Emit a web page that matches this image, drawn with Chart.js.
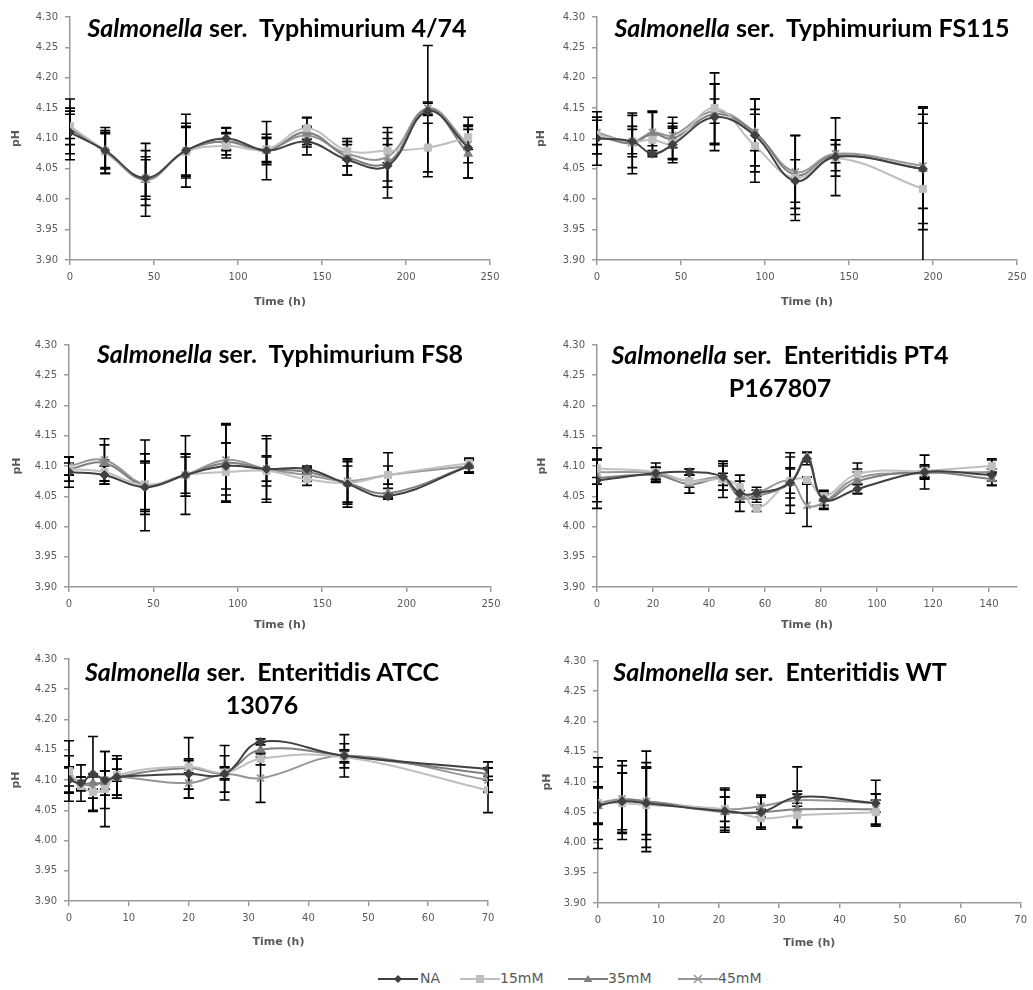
<!DOCTYPE html>
<html>
<head>
<meta charset="utf-8">
<script src="https://cdn.jsdelivr.net/npm/chart.js@4.4.0/dist/chart.umd.min.js"></script>
<style>
  html, body { margin: 0; padding: 0; background: #fff; }
  body { width: 1033px; height: 990px; position: relative; overflow: hidden; }
  canvas.panel { position: absolute; }
  .ttl { position: absolute; transform: translateX(-50%); text-align: center; white-space: pre;
         font-family: Lato, 'Liberation Sans', sans-serif; font-weight: bold; font-size: 25px;
         line-height: 33px; color: #000; }
  .ttl i { font-style: italic; }
  .leg { position: absolute; top: 971px; height: 16px; }
  .legtxt { position: absolute; top: 969px; font-family: 'DejaVu Sans', sans-serif; font-size: 14px;
            color: #595959; line-height: 18px; }
</style>
</head>
<body>
<canvas class="panel" id="c1" width="515" height="315" style="left:0px;top:0px"></canvas>
<canvas class="panel" id="c2" width="513" height="315" style="left:520px;top:0px"></canvas>
<canvas class="panel" id="c3" width="515" height="320" style="left:0px;top:320px"></canvas>
<canvas class="panel" id="c4" width="513" height="320" style="left:520px;top:320px"></canvas>
<canvas class="panel" id="c5" width="515" height="315" style="left:0px;top:640px"></canvas>
<canvas class="panel" id="c6" width="513" height="315" style="left:520px;top:640px"></canvas>

<div class="ttl" style="left:277px;top:11px"><i>Salmonella</i> ser.  Typhimurium 4/74</div>
<div class="ttl" style="left:812px;top:11px"><i>Salmonella</i> ser.  Typhimurium FS115</div>
<div class="ttl" style="left:280px;top:337px"><i>Salmonella</i> ser.  Typhimurium FS8</div>
<div class="ttl" style="left:780px;top:338px"><i>Salmonella</i> ser.  Enteritidis PT4
P167807</div>
<div class="ttl" style="left:262px;top:655px"><i>Salmonella</i> ser.  Enteritidis ATCC
13076</div>
<div class="ttl" style="left:780px;top:655px"><i>Salmonella</i> ser.  Enteritidis WT</div>

<svg class="leg" style="left:378px" width="40" height="16"><line x1="0" y1="8" x2="40" y2="8" stroke="#404040" stroke-width="2"/><polygon points="20,4 24,8 20,12 16,8" fill="#404040"/></svg>
<div class="legtxt" style="left:420px">NA</div>
<svg class="leg" style="left:460px" width="40" height="16"><line x1="0" y1="8" x2="40" y2="8" stroke="#bfbfbf" stroke-width="2"/><rect x="16" y="4" width="8" height="8" fill="#bfbfbf"/></svg>
<div class="legtxt" style="left:500px">15mM</div>
<svg class="leg" style="left:568px" width="40" height="16"><line x1="0" y1="8" x2="40" y2="8" stroke="#7f7f7f" stroke-width="2"/><polygon points="20,4 24.5,11 15.5,11" fill="#7f7f7f"/></svg>
<div class="legtxt" style="left:608px">35mM</div>
<svg class="leg" style="left:678px" width="40" height="16"><line x1="0" y1="8" x2="40" y2="8" stroke="#969696" stroke-width="2"/><path d="M16 4 L24 12 M24 4 L16 12" stroke="#969696" stroke-width="1.5"/></svg>
<div class="legtxt" style="left:718px">45mM</div>

<script>
// ---------------- DATA ----------------
const seriesNames = ['NA', '15mM', '35mM', '45mM'];
const yTickMin = 3.90, yTickMax = 4.30, yTickStep = 0.05;
const axisTitleX = 'Time (h)';
const axisTitleY = 'pH';

// Panel 1: Typhimurium 4/74
const p1Time   = [0, 21, 45, 69, 93, 117, 141, 165, 189, 213, 237];
const p1NA     = [4.110, 4.080, 4.035, 4.080, 4.100, 4.080, 4.095, 4.065, 4.055, 4.145, 4.085];
const p1NAErr  = [0.035, 0.030, 0.035, 0.045, 0.018, 0.048, 0.022, 0.025, 0.035, 0.108, 0.050];
const p1M15    = [4.120, 4.080, 4.035, 4.078, 4.088, 4.082, 4.117, 4.080, 4.080, 4.085, 4.102];
const p1M15Err = [0.020, 0.028, 0.030, 0.040, 0.020, 0.020, 0.018, 0.015, 0.020, 0.040, 0.020];
const p1M35    = [4.115, 4.080, 4.032, 4.080, 4.095, 4.080, 4.110, 4.070, 4.060, 4.148, 4.075];
const p1M35Err = [0.050, 0.038, 0.060, 0.040, 0.022, 0.020, 0.024, 0.030, 0.058, 0.010, 0.040];
const p1M45    = [4.120, 4.078, 4.035, 4.080, 4.095, 4.082, 4.105, 4.075, 4.070, 4.150, 4.090];
const p1M45Err = [0.030, 0.035, 0.045, 0.060, 0.015, 0.025, 0.015, 0.020, 0.040, 0.010, 0.030];

// Panel 2: Typhimurium FS115
const p2Time   = [0, 21, 33, 45, 70, 94, 118, 142, 194];
const p2NA     = [4.100, 4.095, 4.075, 4.090, 4.135, 4.105, 4.030, 4.070, 4.050];
const p2NAErr  = [0.044, 0.043, 0.005, 0.030, 0.055, 0.060, 0.035, 0.064, 0.100];
const p2M15    = [4.105, 4.095, 4.098, 4.092, 4.150, 4.088, 4.035, 4.068, 4.017];
const p2M15Err = [0.030, 0.025, 0.010, 0.025, 0.058, 0.060, 0.070, 0.030, 0.135];
const p2M35    = [4.105, 4.092, 4.108, 4.100, 4.140, 4.110, 4.040, 4.072, 4.050];
const p2M35Err = [0.030, 0.050, 0.035, 0.035, 0.050, 0.055, 0.065, 0.025, 0.090];
const p2M45    = [4.110, 4.095, 4.110, 4.105, 4.145, 4.110, 4.045, 4.075, 4.055];
const p2M45Err = [0.020, 0.020, 0.035, 0.020, 0.020, 0.030, 0.060, 0.015, 0.070];

// Panel 3: Typhimurium FS8
const p3Time   = [0, 21, 45, 69, 93, 117, 141, 165, 189, 237];
const p3NA     = [4.090, 4.085, 4.065, 4.085, 4.100, 4.095, 4.095, 4.070, 4.050, 4.100];
const p3NAErr  = [0.025, 0.015, 0.040, 0.065, 0.038, 0.020, 0.005, 0.030, 0.005, 0.010];
const p3M15    = [4.095, 4.090, 4.068, 4.085, 4.090, 4.092, 4.078, 4.072, 4.085, 4.105];
const p3M15Err = [0.010, 0.020, 0.040, 0.035, 0.048, 0.025, 0.010, 0.040, 0.015, 0.008];
const p3M35    = [4.095, 4.105, 4.068, 4.085, 4.105, 4.095, 4.090, 4.072, 4.055, 4.100];
const p3M35Err = [0.020, 0.030, 0.075, 0.030, 0.065, 0.055, 0.008, 0.035, 0.008, 0.012];
const p3M45    = [4.100, 4.110, 4.070, 4.085, 4.110, 4.095, 4.085, 4.075, 4.085, 4.100];
const p3M45Err = [0.015, 0.035, 0.050, 0.035, 0.058, 0.050, 0.010, 0.035, 0.037, 0.010];

// Panel 4: Enteritidis PT4 P167807
const p4Time   = [0, 21, 33, 45, 51, 57, 69, 75, 81, 93, 117, 141];
const p4NA     = [4.076, 4.088, 4.090, 4.082, 4.055, 4.055, 4.072, 4.112, 4.045, 4.062, 4.090, 4.085];
const p4NAErr  = [0.035, 0.010, 0.005, 0.022, 0.030, 0.005, 0.050, 0.010, 0.010, 0.008, 0.028, 0.010];
const p4M15    = [4.096, 4.090, 4.075, 4.078, 4.065, 4.030, 4.075, 4.077, 4.050, 4.087, 4.092, 4.100];
const p4M15Err = [0.015, 0.015, 0.020, 0.010, 0.010, 0.005, 0.020, 0.005, 0.008, 0.018, 0.010, 0.010];
const p4M35    = [4.080, 4.085, 4.070, 4.078, 4.048, 4.050, 4.072, 4.115, 4.045, 4.075, 4.090, 4.078];
const p4M35Err = [0.050, 0.012, 0.015, 0.030, 0.008, 0.010, 0.025, 0.008, 0.015, 0.020, 0.010, 0.010];
const p4M45    = [4.090, 4.088, 4.075, 4.080, 4.050, 4.055, 4.075, 4.035, 4.040, 4.080, 4.088, 4.090];
const p4M45Err = [0.020, 0.010, 0.010, 0.020, 0.010, 0.010, 0.040, 0.035, 0.012, 0.010, 0.010, 0.022];

// Panel 5: Enteritidis ATCC 13076
const p5Time   = [0, 2, 4, 6, 8, 20, 26, 32, 46, 70];
const p5NA     = [4.100, 4.095, 4.110, 4.100, 4.105, 4.110, 4.110, 4.163, 4.140, 4.118];
const p5NAErr  = [0.022, 0.010, 0.062, 0.047, 0.030, 0.025, 0.030, 0.005, 0.035, 0.012];
const p5M15    = [4.115, 4.090, 4.080, 4.085, 4.108, 4.122, 4.112, 4.135, 4.138, 4.083];
const p5M15Err = [0.050, 0.008, 0.030, 0.062, 0.010, 0.010, 0.010, 0.010, 0.010, 0.037];
const p5M35    = [4.110, 4.095, 4.095, 4.095, 4.105, 4.120, 4.112, 4.150, 4.140, 4.110];
const p5M35Err = [0.030, 0.010, 0.010, 0.020, 0.030, 0.050, 0.045, 0.012, 0.010, 0.010];
const p5M45    = [4.105, 4.095, 4.090, 4.100, 4.105, 4.095, 4.110, 4.103, 4.140, 4.100];
const p5M45Err = [0.015, 0.030, 0.020, 0.015, 0.035, 0.025, 0.010, 0.040, 0.020, 0.020];

// Panel 6: Enteritidis WT
const p6Time   = [0, 4, 8, 21, 27, 33, 46];
const p6NA     = [4.062, 4.068, 4.065, 4.052, 4.050, 4.075, 4.065];
const p6NAErr  = [0.030, 0.047, 0.060, 0.035, 0.025, 0.050, 0.038];
const p6M15    = [4.065, 4.065, 4.062, 4.055, 4.040, 4.045, 4.050];
const p6M15Err = [0.060, 0.050, 0.070, 0.020, 0.015, 0.020, 0.020];
const p6M35    = [4.060, 4.070, 4.068, 4.050, 4.050, 4.055, 4.055];
const p6M35Err = [0.030, 0.065, 0.055, 0.025, 0.028, 0.030, 0.025];
const p6M45    = [4.065, 4.072, 4.068, 4.055, 4.060, 4.070, 4.065];
const p6M45Err = [0.075, 0.055, 0.083, 0.035, 0.018, 0.010, 0.015];

// ---------------- STYLE ----------------
const seriesStyle = [
  { color: '#404040', point: 'rectRot',  radius: 4.5 },
  { color: '#bfbfbf', point: 'rect',     radius: 5   },
  { color: '#7f7f7f', point: 'triangle', radius: 5   },
  { color: '#969696', point: 'crossRot', radius: 5   }
];
const textGray = '#595959';
const axisGray = '#9a9a9a';
const FONT = "'DejaVu Sans', sans-serif";

const errorBarPlugin = {
  id: 'errorBars',
  beforeDatasetsDraw(chart) {
    const { ctx, chartArea, scales } = chart;
    const xs = scales.x, ys = scales.y;
    ctx.save();
    ctx.beginPath();
    ctx.rect(chartArea.left - 6, chartArea.top - 1, chartArea.right - chartArea.left + 12, chartArea.bottom - chartArea.top + 1);
    ctx.clip();
    ctx.strokeStyle = '#000';
    ctx.lineWidth = 1.6;
    chart.data.datasets.forEach(ds => {
      ds.data.forEach((p, i) => {
        const e = ds.errors[i];
        if (!e) return;
        const px = xs.getPixelForValue(p.x);
        const top = ys.getPixelForValue(p.y + e);
        const bot = Math.min(ys.getPixelForValue(p.y - e), chartArea.bottom + 3);
        ctx.beginPath();
        ctx.moveTo(px, top); ctx.lineTo(px, bot);
        ctx.moveTo(px - 5, top); ctx.lineTo(px + 5, top);
        if (ys.getPixelForValue(p.y - e) <= chartArea.bottom) {
          ctx.moveTo(px - 5, bot); ctx.lineTo(px + 5, bot);
        }
        ctx.stroke();
      });
    });
    ctx.restore();
  }
};

function makePanel(id, time, values, errors, lay) {
  const datasets = seriesNames.map((name, k) => ({
    label: name,
    data: time.map((t, i) => ({ x: t, y: values[k][i] })),
    errors: errors[k],
    borderColor: seriesStyle[k].color,
    backgroundColor: seriesStyle[k].color,
    pointBackgroundColor: seriesStyle[k].color,
    pointBorderColor: seriesStyle[k].color,
    pointStyle: seriesStyle[k].point,
    pointRadius: seriesStyle[k].radius,
    pointBorderWidth: k === 3 ? 1.8 : 1,
    borderWidth: 2,
    tension: 0.4,
    fill: false
  }));
  const gridOpts = { display: true, drawOnChartArea: false, drawTicks: true, tickLength: 5, color: axisGray, lineWidth: 1.5 };
  const borderOpts = { display: true, color: axisGray, width: 1.5 };
  return new Chart(document.getElementById(id), {
    type: 'line',
    data: { datasets },
    options: {
      responsive: false,
      animation: false,
      devicePixelRatio: 1,
      layout: { padding: { left: 0, right: lay.padR, top: lay.padT, bottom: 0 } },
      plugins: { legend: { display: false }, tooltip: { enabled: false } },
      scales: {
        x: {
          type: 'linear', min: 0, max: lay.xMax,
          afterFit: s => { s.height = lay.xAxisH; },
          ticks: { stepSize: lay.xStep, includeBounds: false, autoSkip: false, maxRotation: 0,
                   padding: 6, color: textGray, font: { family: FONT, size: 10 } },
          grid: gridOpts, border: borderOpts,
          title: { display: true, text: axisTitleX, color: textGray,
                   font: { family: FONT, size: 11, weight: 'bold' },
                   padding: { top: 0, bottom: lay.xTitlePad } }
        },
        y: {
          min: yTickMin, max: yTickMax,
          afterFit: s => { s.width = lay.yAxisW; },
          ticks: { stepSize: yTickStep, autoSkip: false, padding: 7, color: textGray,
                   font: { family: FONT, size: 10 }, callback: v => Number(v).toFixed(2) },
          grid: gridOpts, border: borderOpts,
          title: { display: true, text: axisTitleY, color: textGray,
                   font: { family: FONT, size: 11, weight: 'bold' },
                   padding: { top: lay.yTitlePad, bottom: 0 } }
        }
      }
    },
    plugins: [errorBarPlugin]
  });
}

makePanel('c1', p1Time, [p1NA, p1M15, p1M35, p1M45], [p1NAErr, p1M15Err, p1M35Err, p1M45Err],
  { padR: 25, padT: 17, xAxisH: 55, yAxisW: 70, xMax: 250, xStep: 50, xTitlePad: 6, yTitlePad: 10 });
makePanel('c2', p2Time, [p2NA, p2M15, p2M35, p2M45], [p2NAErr, p2M15Err, p2M35Err, p2M45Err],
  { padR: 16, padT: 17, xAxisH: 55, yAxisW: 77, xMax: 250, xStep: 50, xTitlePad: 6, yTitlePad: 15 });
makePanel('c3', p3Time, [p3NA, p3M15, p3M35, p3M45], [p3NAErr, p3M15Err, p3M35Err, p3M45Err],
  { padR: 24, padT: 25, xAxisH: 53, yAxisW: 69, xMax: 250, xStep: 50, xTitlePad: 8, yTitlePad: 11 });
makePanel('c4', p4Time, [p4NA, p4M15, p4M35, p4M45], [p4NAErr, p4M15Err, p4M35Err, p4M45Err],
  { padR: 16, padT: 25, xAxisH: 53, yAxisW: 77, xMax: 150, xStep: 20, xTitlePad: 8, yTitlePad: 16 });
makePanel('c5', p5Time, [p5NA, p5M15, p5M35, p5M45], [p5NAErr, p5M15Err, p5M35Err, p5M45Err],
  { padR: 27, padT: 19, xAxisH: 54, yAxisW: 69, xMax: 70, xStep: 10, xTitlePad: 6, yTitlePad: 10 });
makePanel('c6', p6Time, [p6NA, p6M15, p6M35, p6M45], [p6NAErr, p6M15Err, p6M35Err, p6M45Err],
  { padR: 11, padT: 21, xAxisH: 52, yAxisW: 78, xMax: 70, xStep: 10, xTitlePad: 5, yTitlePad: 21 });
</script>
</body>
</html>
